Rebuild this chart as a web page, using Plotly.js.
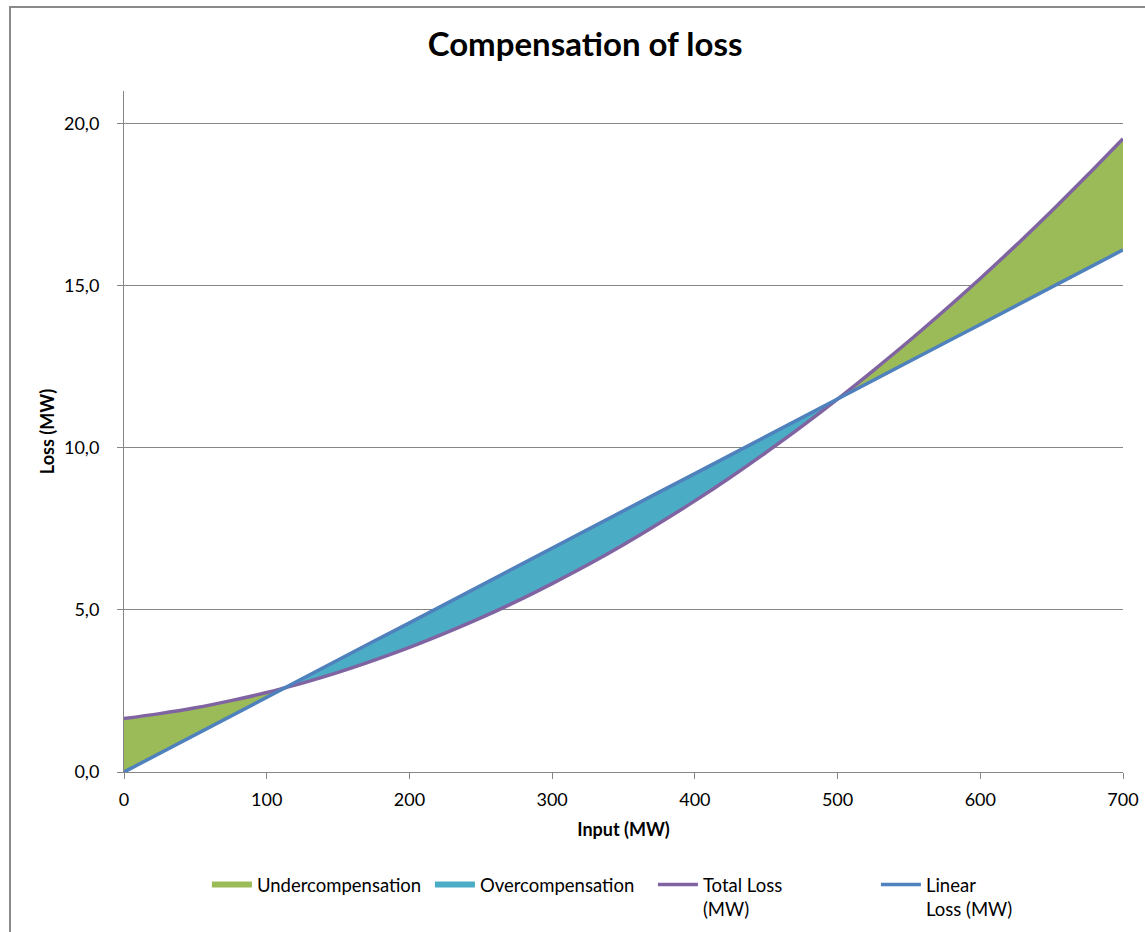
<!DOCTYPE html>
<html>
<head>
<meta charset="utf-8">
<script src="https://cdn.plot.ly/plotly-3.0.1.min.js"></script>
<style>
html,body{margin:0;padding:0;background:#fff;overflow:hidden;}
#chart{width:1145px;height:932px;}
#frame{position:absolute;left:9px;top:6px;width:2000px;height:2000px;border:2px solid #8a8a8a;pointer-events:none;}
</style>
</head>
<body>
<div id="chart"></div>
<div id="frame"></div>
<script>
// Data
const inputMW = [0, 25, 50, 75, 100, 113, 125, 150, 175, 200, 225, 250, 275, 300, 325, 350, 375, 400, 425, 450, 475, 500, 525, 550, 575, 600, 625, 650, 675, 700];
const totalLoss = [1.65, 1.80, 1.98, 2.20, 2.45, 2.60, 2.74, 3.07, 3.44, 3.84, 4.28, 4.75, 5.26, 5.81, 6.39, 7.01, 7.67, 8.36, 9.09, 9.86, 10.66, 11.50, 12.38, 13.29, 14.24, 15.22, 16.24, 17.30, 18.40, 19.53];
const linearLoss = [0.00, 0.58, 1.15, 1.73, 2.30, 2.60, 2.88, 3.45, 4.03, 4.60, 5.18, 5.75, 6.33, 6.90, 7.48, 8.05, 8.63, 9.20, 9.78, 10.35, 10.93, 11.50, 12.08, 12.65, 13.23, 13.80, 14.38, 14.95, 15.53, 16.10];
const xTicks = [0, 100, 200, 300, 400, 500, 600, 700];
const yTicks = [0, 5, 10, 15, 20];

const upper = totalLoss.map((t, i) => Math.max(t, linearLoss[i]));

const FONT = 'Lato, "Liberation Sans", sans-serif';
const traces = [
  {x: inputMW, y: linearLoss, mode: 'lines', line: {width: 0, color: 'rgba(0,0,0,0)'}, showlegend: false, hoverinfo: 'skip'},
  {x: inputMW, y: upper, mode: 'none', fill: 'tonexty', fillcolor: '#9BBB59', name: 'Undercompensation'},
  {x: inputMW, y: totalLoss, mode: 'lines', line: {width: 0, color: 'rgba(0,0,0,0)'}, showlegend: false, hoverinfo: 'skip'},
  {x: inputMW, y: upper, mode: 'none', fill: 'tonexty', fillcolor: '#4BACC6', name: 'Overcompensation'},
  {x: inputMW, y: totalLoss, mode: 'lines', line: {width: 3.5, color: '#8064A2', shape: 'spline'}, name: 'Total Loss<br>(MW)'},
  {x: inputMW, y: linearLoss, mode: 'lines', line: {width: 3.5, color: '#4F81BD'}, name: 'Linear<br>Loss (MW)'}
];

const layout = {
  width: 1145, height: 932,
  margin: {l: 124, r: 22, t: 91, b: 160, autoexpand: false},
  paper_bgcolor: '#fff', plot_bgcolor: '#fff',
  separators: ',.',
  font: {family: FONT, size: 18, color: '#000'},
  title: {text: '<b>Compensation of loss</b>', font: {family: FONT, size: 33, color: '#000'}, x: 0.511, xanchor: 'center', y: 0.952, yanchor: 'middle'},
  xaxis: {
    range: [0, 700], tickvals: xTicks, ticks: 'outside', ticklen: 6, tickcolor: '#868686',
    showgrid: false, zeroline: false, showline: true, linecolor: '#868686', linewidth: 1,
    tickfont: {family: FONT, size: 18}, ticklabelstandoff: 5, automargin: false,
    title: {text: '<b>Input (MW)</b>', font: {family: FONT, size: 18}, standoff: 14}
  },
  yaxis: {
    range: [0, 21], tickvals: yTicks, tickformat: '.1f', ticks: 'outside', ticklen: 6, tickcolor: '#868686',
    showgrid: true, gridcolor: '#868686', gridwidth: 1, zeroline: false,
    showline: true, linecolor: '#868686', linewidth: 1,
    tickfont: {family: FONT, size: 18}, ticklabelstandoff: 14, automargin: false,
    title: {text: '<b>Loss (MW)</b>', font: {family: FONT, size: 18}, standoff: 4}
  },
  legend: {
    orientation: 'h', traceorder: 'normal', x: 0.083, xanchor: 'left', y: -0.138, yanchor: 'top',
    font: {family: FONT, size: 18.5}, valign: 'top', itemwidth: 40,
    entrywidth: 168, entrywidthmode: 'pixels'
  },
  showlegend: true
};

Plotly.newPlot('chart', traces, layout, {displayModeBar: false, staticPlot: true});
</script>
</body>
</html>
